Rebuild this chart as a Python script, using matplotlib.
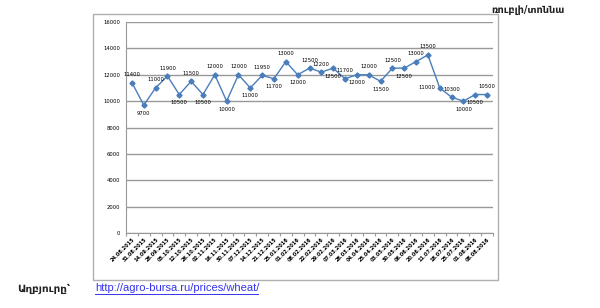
import matplotlib
matplotlib.use("Agg")
import matplotlib.pyplot as plt
from matplotlib.patches import Rectangle
from matplotlib.lines import Line2D

dates = ["24.08.2015", "31.08.2015", "14.09.2015", "28.09.2015", "05.10.2015",
         "12.10.2015", "26.10.2015", "02.11.2015", "16.11.2015", "30.11.2015",
         "07.12.2015", "14.12.2015", "21.12.2015", "25.01.2016", "01.02.2016",
         "08.02.2016", "22.02.2016", "29.02.2016", "07.03.2016", "28.03.2016",
         "04.04.2016", "25.04.2016", "03.05.2016", "30.05.2016", "06.06.2016",
         "20.06.2016", "11.07.2016", "18.07.2016", "25.07.2016", "01.08.2016",
         "08.08.2016"]
prices = [11400, 9700, 11000, 11900, 10500, 11500, 10500, 12000, 10000, 12000,
          11000, 11950, 11700, 13000, 12000, 12500, 12200, 12500, 11700, 12000,
          12000, 11500, 12500, 12500, 13000, 13500, 11000, 10300, 10000, 10500,
          10500]
yticks = [0, 2000, 4000, 6000, 8000, 10000, 12000, 14000, 16000]
unit_label = "ռուբլի/տոննա"
source_label = "Աղբյուրը՝"
source_url = "http://agro-bursa.ru/prices/wheat/"

# label placement style (a=above, b=below, l=left)
label_side = ["a", "b", "a", "a", "b", "a", "b", "a", "b", "a",
              "b", "a", "b", "a", "b", "a", "a", "b", "a", "b",
              "a", "b", "a", "b", "a", "a", "l", "a", "b", "b", "a"]

fig = plt.figure(figsize=(6.0, 3.08), dpi=100)
W, H = 600, 308

# outer chart border
fig.patches.append(Rectangle((93 / W, 1 - 280 / H), (498 - 93) / W, (280 - 14) / H,
                             transform=fig.transFigure, fill=False,
                             edgecolor="#b0b0b0", linewidth=1.0))

ax = fig.add_axes([126 / W, 1 - 233 / H, (493 - 126) / W, (233 - 22) / H])
x = list(range(len(prices)))
ax.plot(x, prices, color="#4a7ebb", linewidth=1.0, marker="D", markersize=2.6,
        markerfacecolor="#4a7ebb", markeredgecolor="#4a7ebb", zorder=3)

ax.set_xlim(-0.5, len(prices) - 0.5)
ax.set_ylim(0, 16000)
ax.set_yticks(yticks)
ax.set_yticklabels([str(v) for v in yticks], fontsize=3.8)
ax.yaxis.grid(True, color="#999999", linewidth=1.0)
ax.set_axisbelow(True)
for s in ["top", "right"]:
    ax.spines[s].set_visible(False)
ax.spines["left"].set_color("#999999")
ax.spines["bottom"].set_color("#999999")
ax.tick_params(axis="y", length=0, pad=4)

ax.set_xticks([i - 0.5 for i in range(len(prices) + 1)])
ax.set_xticklabels([])
ax.set_xticks(x, minor=True)
ax.set_xticklabels(dates, minor=True, rotation=45, ha="right", va="top",
                   fontsize=3.6, fontweight="bold", rotation_mode="anchor")
ax.tick_params(axis="x", which="major", length=2, color="#999999")
ax.tick_params(axis="x", which="minor", length=0, pad=3)

for xi, v, side in zip(x, prices, label_side):
    if side == "a":
        ax.annotate(str(v), (xi, v), xytext=(0, 4), textcoords="offset points",
                    ha="center", va="bottom", fontsize=3.8)
    elif side == "b":
        ax.annotate(str(v), (xi, v), xytext=(0, -4), textcoords="offset points",
                    ha="center", va="top", fontsize=3.8)
    else:
        ax.annotate(str(v), (xi, v), xytext=(-3, 0), textcoords="offset points",
                    ha="right", va="center", fontsize=3.8)

fig.text(565 / W, 1 - 10 / H, unit_label, ha="right", va="center",
         fontsize=7, fontweight="bold", color="#222222")
fig.text(17 / W, 1 - 289 / H, source_label, ha="left", va="center",
         fontsize=7.5, fontweight="bold", color="#222222")
fig.text(95 / W, 1 - 288 / H, source_url, ha="left", va="center",
         fontsize=8, family="Liberation Sans", color="#3333ee")
fig.lines.append(Line2D([95 / W, 258 / W], [1 - 294 / H, 1 - 294 / H],
                        transform=fig.transFigure, color="#3333ee", linewidth=0.7))

fig.savefig("out.png", dpi=100)
